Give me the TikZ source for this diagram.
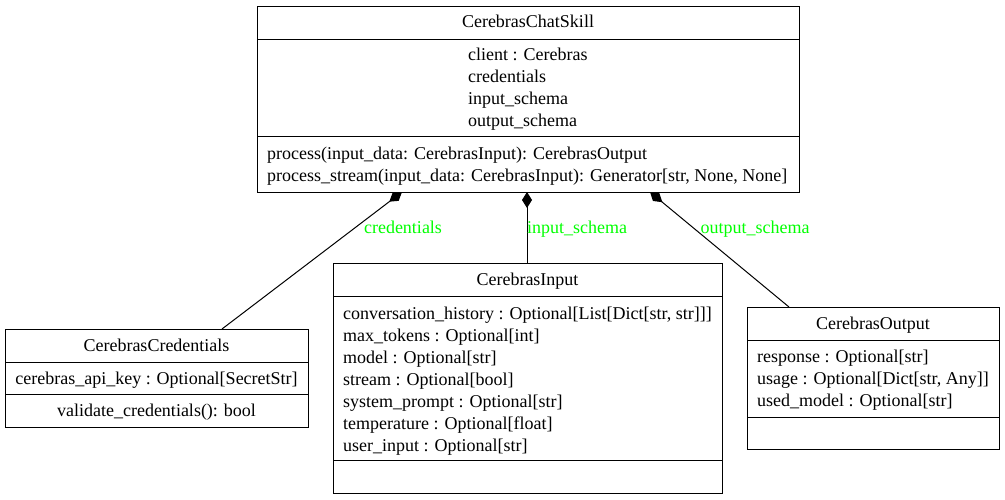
\documentclass[tikz,border=0pt]{standalone}
\usepackage{fontspec}
\setmainfont{Liberation Serif}
\usetikzlibrary{arrows.meta,calc}
\definecolor{lblgreen}{RGB}{0,255,0}
\begin{document}
\begin{tikzpicture}[x=1pt,y=-1pt,
  box/.style={draw,line width=1pt,anchor=north west,inner sep=0pt,outer sep=0pt},
  sep/.style={line width=1pt},
  tl/.style={font=\fontsize{18}{22}\selectfont,inner sep=0pt,anchor=mid west,yshift=-3pt},
  tc/.style={font=\fontsize{18}{22}\selectfont,inner sep=0pt,anchor=mid,yshift=-3pt},
  lbl/.style={font=\fontsize{18}{22}\selectfont,inner sep=0pt,anchor=mid,text=lblgreen,yshift=-3pt},
  comp/.style={line width=1pt,-{Diamond[length=16pt,width=10pt]}}]
\useasboundingbox (0,0) rectangle (1005,499);
\fill[white] (0,0) rectangle (1005,499);
% CerebrasChatSkill
\node[box,minimum width=542pt,minimum height=186pt] (skill) at (257,6) {};
\draw[sep] (257,39) -- (799,39);
\draw[sep] (257,136) -- (799,136);
\node[tc] (skillt) at (528,22) {CerebrasChatSkill};
\foreach \t [count=\i] in {client : Cerebras,credentials,input\_schema,output\_schema}
  \node[tl] (skilla\i) at (468,{55+22*(\i-1)}) {\t};
\node[tl] (skillm1) at (267,154) {process(input\_data: CerebrasInput): CerebrasOutput};
\node[tl] (skillm2) at (267,176) {process\_stream(input\_data: CerebrasInput): Generator[str, None, None]};
% CerebrasCredentials
\node[box,minimum width=303pt,minimum height=98pt] (cred) at (5,329) {};
\draw[sep] (5,362) -- (308,362);
\draw[sep] (5,394) -- (308,394);
\node[tc] (credt) at (156.5,346) {CerebrasCredentials};
\node[tc] (creda) at (156.5,379) {cerebras\_api\_key : Optional[SecretStr]};
\node[tc] (credm) at (156.5,411) {validate\_credentials(): bool};
% CerebrasInput
\node[box,minimum width=389pt,minimum height=230pt] (inp) at (333,263) {};
\draw[sep] (333,296) -- (722,296);
\draw[sep] (333,460) -- (722,460);
\node[tc] (inpt) at (527.5,280) {CerebrasInput};
\foreach \t [count=\i] in {{conversation\_history : Optional[List[Dict[str, str]]]},max\_tokens : Optional[int],model : Optional[str],stream : Optional[bool],system\_prompt : Optional[str],temperature : Optional[float],user\_input : Optional[str]}
  \node[tl] (inpa\i) at (343,{314+22*(\i-1)}) {\t};
% CerebrasOutput
\node[box,minimum width=252pt,minimum height=142pt] (outp) at (747,307) {};
\draw[sep] (747,340) -- (999,340);
\draw[sep] (747,417) -- (999,417);
\node[tc] (outpt) at (873,324) {CerebrasOutput};
\foreach \t [count=\i] in {response : Optional[str],{usage : Optional[Dict[str, Any]]},used\_model : Optional[str]}
  \node[tl] (outpa\i) at (757,{357+22*(\i-1)}) {\t};
% connectors
\coordinate (s1) at (402,192);
\coordinate (s2) at (527,192);
\coordinate (s3) at (650,192);
\coordinate (c1) at (222,329);
\coordinate (c2) at (527,263);
\coordinate (c3) at (789,307);
\draw[comp] (c1) -- (s1);
\draw[comp] (c2) -- (s2);
\draw[comp] (c3) -- (s3);
\node[lbl] (l1) at (403,228) {credentials};
\node[lbl] (l2) at (577,228) {input\_schema};
\node[lbl] (l3) at (755,228) {output\_schema};
\end{tikzpicture}
\end{document}
